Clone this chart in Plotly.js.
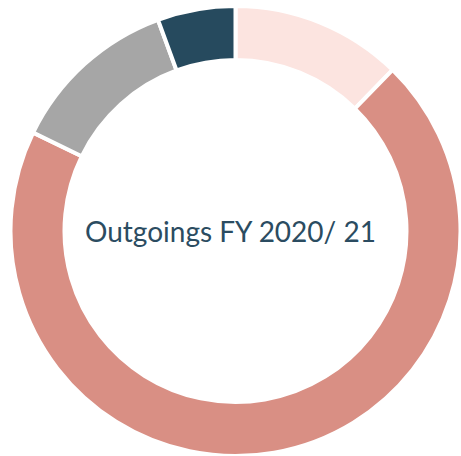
<!DOCTYPE html>
<html>
<head>
<meta charset="utf-8">
<script src="https://cdn.plot.ly/plotly-3.0.1.min.js"></script>
<style>html,body{margin:0;padding:0;background:#fff;}#chart{width:461px;height:456px;}</style>
</head>
<body>
<div id="chart"></div>
<script>
const categories = ["Segment 1", "Segment 2", "Segment 3", "Segment 4"];
const values = [12.3, 69.9, 12.2, 5.6];
const colors = ["#FCE4E0", "#D98F84", "#A6A6A6", "#264A5E"];
const centerText = "Outgoings FY 2020/ 21";

Plotly.newPlot("chart", [{
  type: "pie",
  labels: categories,
  values: values,
  sort: false,
  direction: "clockwise",
  rotation: 0,
  hole: 0.76,
  textinfo: "none",
  marker: {colors: colors, line: {color: "#ffffff", width: 4}},
  showlegend: false
}], {
  width: 461, height: 456,
  margin: {l: 10, r: 0, t: 6, b: 0},
  paper_bgcolor: "#fff",
  annotations: [{
    text: centerText, showarrow: false,
    xref: "paper", yref: "paper", x: 0.49, y: 0.5,
    xanchor: "center", yanchor: "middle",
    font: {family: "Lato", size: 28, color: "#2B4C61"}
  }]
}, {staticPlot: true});
</script>
</body>
</html>
